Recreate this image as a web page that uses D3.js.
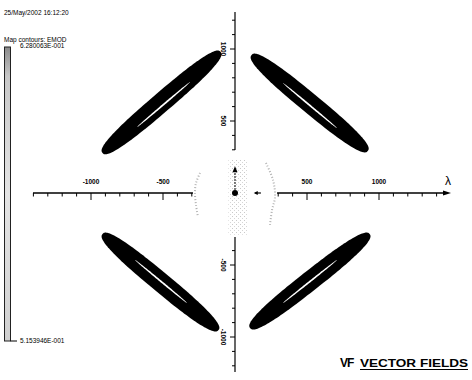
<!DOCTYPE html>
<html><head><meta charset="utf-8">
<script src="https://cdn.jsdelivr.net/npm/d3@7"></script>
<style>html,body{margin:0;padding:0;background:#fff}svg{display:block}text{fill:#000}</style>
</head><body>
<svg id="c" width="472" height="380"></svg>
<script>
// ---- data (model units) ----
const xTickValues = [-1000, -500, 500, 1000];
const yTickValues = [1000, 500, -500, -1000];
const xAxisLeftDomain = [-1403, -292];
const xAxisRightDomain = [292, 1500];
const yAxisUpperDomain = [1257, 299];
const yAxisLowerDomain = [-306, -1243];
// four contour lobes: start/end points of their long axis
const lobeX1 = [-920, 115, -920, 105];
const lobeY1 = [278, 958, -285, -938];
const lobeX2 = [-100, 922, -115, 935];
const lobeY2 = [980, 292, -952, -285];
const lobeHalfWidth = 68;
// inner slits (lowest contour band)
const slitX1 = [-680, 333, -694, 333];
const slitY1 = [458, 764, -465, -764];
const slitX2 = [-312, 708, -333, 708];
const slitY2 = [771, 451, -764, -465];
const slitHalfWidth = 6;
// faint speckle arcs near the origin
const leftArcX = [-243, -271, -278, -271, -257];
const leftArcY = [139, 69, 0, -83, -167];
const rightArcX = [215, 264, 278, 257, 243];
const rightArcY = [208, 90, -28, -118, -222];
const legendTop = "6.280063E-001";
const legendBottom = "5.153946E-001";

const svg = d3.select("#c");
const x = d3.scaleLinear().domain([-1000, 1000]).range([91, 379]);
const y = d3.scaleLinear().domain([-1000, 1000]).range([337, 49]);
const font = "'Liberation Sans', Arial, sans-serif";

const defs = svg.append("defs");
const pat = defs.append("pattern").attr("id", "sp").attr("width", 4).attr("height", 4).attr("patternUnits", "userSpaceOnUse");
pat.append("rect").attr("x", 0).attr("y", 0).attr("width", 1).attr("height", 1).attr("fill", "#bbb");
pat.append("rect").attr("x", 2).attr("y", 2).attr("width", 1).attr("height", 1).attr("fill", "#ccc");
const grad = defs.append("linearGradient").attr("id", "lg").attr("x1", 0).attr("y1", 0).attr("x2", 0).attr("y2", 1);
grad.append("stop").attr("offset", "0").attr("stop-color", "#8a8a8a");
grad.append("stop").attr("offset", "0.1").attr("stop-color", "#c8c8c8");
grad.append("stop").attr("offset", "0.5").attr("stop-color", "#e4e4e4");
grad.append("stop").attr("offset", "1").attr("stop-color", "#d0d0d0");

function lobePath(x1, y1, x2, y2, hw, n) {
  const p1 = [x(x1), y(y1)], p2 = [x(x2), y(y2)];
  const cx = (p1[0] + p2[0]) / 2, cy = (p1[1] + p2[1]) / 2;
  const dx = p2[0] - p1[0], dy = p2[1] - p1[1];
  const L = Math.hypot(dx, dy), a = L / 2;
  const ux = dx / L, uy = dy / L, vx = -uy, vy = ux;
  const b = x(hw) - x(0);
  const pts = [];
  for (let i = 0; i < 160; i++) {
    const t = i / 160 * 2 * Math.PI;
    const c = Math.cos(t), s = Math.sin(t);
    const px = a * Math.sign(c) * Math.pow(Math.abs(c), 2 / n);
    const py = b * Math.sign(s) * Math.pow(Math.abs(s), 2 / n);
    pts.push([cx + ux * px + vx * py, cy + uy * px + vy * py]);
  }
  return d3.line().curve(d3.curveLinearClosed)(pts);
}

lobeX1.forEach((v, i) => {
  svg.append("path").attr("d", lobePath(lobeX1[i], lobeY1[i], lobeX2[i], lobeY2[i], lobeHalfWidth, 2.6)).attr("fill", "#000");
  svg.append("path").attr("d", lobePath(slitX1[i], slitY1[i], slitX2[i], slitY2[i], slitHalfWidth, 2)).attr("fill", "#fff");
});

// central speckle
svg.append("rect").attr("x", x(-45)).attr("y", y(230)).attr("width", x(90) - x(-45)).attr("height", y(-290) - y(230)).attr("fill", "url(#sp)").attr("opacity", 0.8);
const arcLine = d3.line().x(d => x(d[0])).y(d => y(d[1])).curve(d3.curveCatmullRom);
[[leftArcX, leftArcY], [rightArcX, rightArcY]].forEach(([ax_, ay_]) => {
  svg.append("path").attr("d", arcLine(ax_.map((v, i) => [v, ay_[i]]))).attr("fill", "none")
    .attr("stroke", "#b0b0b0").attr("stroke-width", 2).attr("stroke-dasharray", "1,2");
});

// axes
const ax = svg.append("g").attr("stroke", "#000").attr("fill", "none");
ax.append("line").attr("x1", x(xAxisLeftDomain[0])).attr("x2", x(xAxisLeftDomain[1])).attr("y1", y(0)).attr("y2", y(0)).attr("stroke-width", 1.3);
ax.append("line").attr("x1", x(xAxisRightDomain[0])).attr("x2", x(xAxisRightDomain[1]) - 4).attr("y1", y(0)).attr("y2", y(0)).attr("stroke-width", 1.3);
svg.append("path").attr("d", `M${x(xAxisRightDomain[1])},${y(0)} l-8,-2.5 l0,5 z`).attr("fill", "#000");
ax.append("line").attr("x1", x(0)).attr("x2", x(0)).attr("y1", y(yAxisUpperDomain[0])).attr("y2", y(yAxisUpperDomain[1])).attr("stroke-width", 1.2);
ax.append("line").attr("x1", x(0)).attr("x2", x(0)).attr("y1", y(yAxisLowerDomain[0])).attr("y2", y(yAxisLowerDomain[1])).attr("stroke-width", 1.2);

const xt = d3.range(-1400, 1501, 100).filter(v => (v >= xAxisLeftDomain[0] && v <= xAxisLeftDomain[1]) || (v >= xAxisRightDomain[0] && v <= xAxisRightDomain[1] - 80));
xt.forEach(v => {
  const major = v % 500 === 0;
  ax.append("line").attr("x1", x(v)).attr("x2", x(v)).attr("y1", y(0)).attr("y2", y(0) + (major ? 7 : 3.5)).attr("stroke-width", 1);
});
const yt = d3.range(-1200, 1301, 100).filter(v => (v <= yAxisUpperDomain[0] && v >= yAxisUpperDomain[1]) || (v <= yAxisLowerDomain[0] && v >= yAxisLowerDomain[1]));
yt.forEach(v => {
  const major = v % 500 === 0;
  ax.append("line").attr("x1", x(0)).attr("x2", x(0) - (major ? 5 : 3)).attr("y1", y(v)).attr("y2", y(v)).attr("stroke-width", 1);
});

xTickValues.forEach(v => {
  svg.append("text").attr("x", x(v)).attr("y", y(0) - 9).attr("text-anchor", "middle")
    .attr("font-family", font).attr("font-size", 6.5).attr("font-weight", "bold").text(v);
});
yTickValues.forEach(v => {
  svg.append("text").attr("transform", `translate(${x(0) - 14},${y(v)}) rotate(90)`).attr("text-anchor", "middle")
    .attr("font-family", font).attr("font-size", 6.5).attr("font-weight", "bold").text(v);
});
svg.append("text").attr("x", x(xAxisRightDomain[1]) - 3).attr("y", y(0) - 8).attr("text-anchor", "middle")
  .attr("font-family", font).attr("font-size", 12).text("λ");

// centre marker & small arrows
svg.append("line").attr("x1", x(0)).attr("x2", x(0)).attr("y1", y(0)).attr("y2", y(165)).attr("stroke", "#000").attr("stroke-width", 1).attr("stroke-dasharray", "2,1");
svg.append("path").attr("d", `M${x(0)},${y(185)} l-2.5,6 l5,0 z`).attr("fill", "#000");
svg.append("circle").attr("cx", x(0)).attr("cy", y(0)).attr("r", 3).attr("fill", "#000");
svg.append("line").attr("x1", x(180)).attr("x2", x(140)).attr("y1", y(0)).attr("y2", y(0)).attr("stroke", "#000").attr("stroke-width", 1.2);
svg.append("path").attr("d", `M${x(130)},${y(0)} l4,-2 l0,4 z`).attr("fill", "#000");

// header text
svg.append("text").attr("x", 4).attr("y", 15).attr("font-family", font).attr("font-size", 6.5).text("25/May/2002 16:12:20");
svg.append("text").attr("x", 4).attr("y", 42).attr("font-family", font).attr("font-size", 6.5).text("Map contours: EMOD");
svg.append("text").attr("x", 20).attr("y", 48).attr("font-family", font).attr("font-size", 6.5).text(legendTop);
svg.append("text").attr("x", 20).attr("y", 343).attr("font-family", font).attr("font-size", 6.5).text(legendBottom);

// legend bar
svg.append("rect").attr("x", 4.5).attr("y", 47).attr("width", 6).attr("height", 294).attr("fill", "url(#lg)").attr("stroke", "#222").attr("stroke-width", 1);
svg.append("line").attr("x1", 10.5).attr("x2", 17).attr("y1", 341).attr("y2", 341).attr("stroke", "#000").attr("stroke-width", 1);

// logo
svg.append("text").attr("x", 340).attr("y", 367).attr("font-family", font).attr("font-size", 12).attr("font-weight", "bold").text("V");
svg.append("text").attr("x", 347).attr("y", 367).attr("font-family", font).attr("font-size", 12).attr("font-weight", "bold").text("F");
svg.append("text").attr("x", 360).attr("y", 367).attr("font-family", font).attr("font-size", 11.5).attr("font-weight", "bold")
  .attr("textLength", 108).attr("lengthAdjust", "spacingAndGlyphs").text("VECTOR FIELDS");
svg.append("line").attr("x1", 360).attr("x2", 468).attr("y1", 369.5).attr("y2", 369.5).attr("stroke", "#000").attr("stroke-width", 1);
</script>
</body></html>
